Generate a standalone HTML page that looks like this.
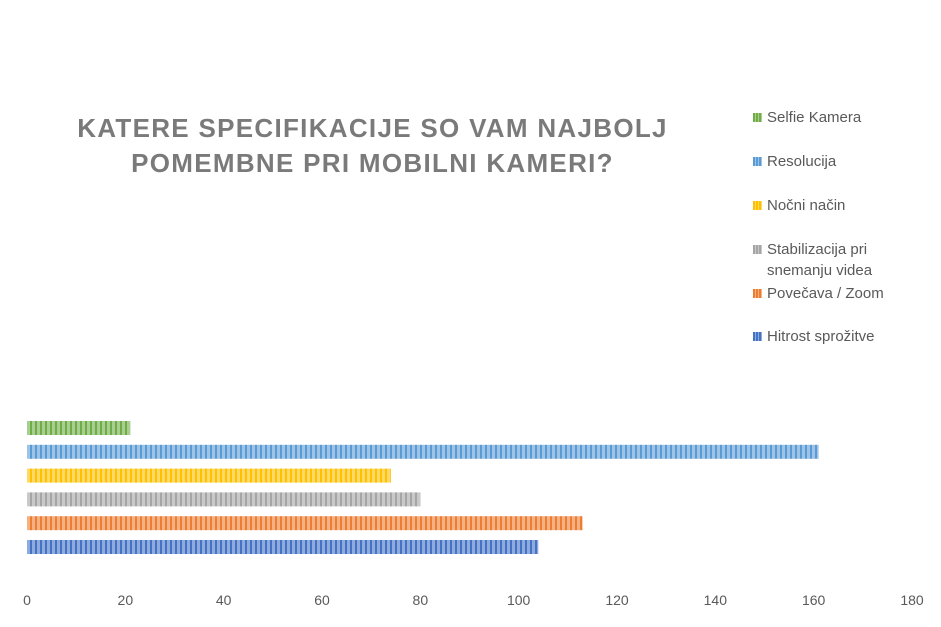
<!DOCTYPE html>
<html><head><meta charset="utf-8"><style>
body{margin:0;background:#fff;font-family:"Liberation Sans",sans-serif}
#c{position:relative;width:941px;height:627px;overflow:hidden}
.t{position:absolute;left:40px;width:665px;text-align:center;top:111px;font-size:26px;font-weight:bold;color:#7a7a7a;letter-spacing:1.3px;line-height:35px}
.lg{position:absolute;left:753px;font-size:15px;color:#595959;line-height:21px}
.lg i{position:absolute;left:0;top:6px;width:9px;height:9px}
.lg span{position:absolute;left:14px;white-space:nowrap}
</style></head><body>
<div id="c">
<div class="t">KATERE SPECIFIKACIJE SO VAM NAJBOLJ POMEMBNE PRI MOBILNI KAMERI?</div>
<div id="legend"></div>
<svg id="s" width="941" height="627" style="position:absolute;left:0;top:0">
<defs id="d"></defs>
</svg>
</div>
<script>
const categories=["Selfie Kamera","Resolucija","Nočni način","Stabilizacija pri snemanju videa","Povečava / Zoom","Hitrost sprožitve"];
const values=[21,161,74,80,113,104];
const colors=["#70ad47","#5b9bd5","#ffc000","#a5a5a5","#ed7d31","#4472c4"];
const ticks=[0,20,40,60,80,100,120,140,160,180];
const x0=27,x1=912,xmax=180;
const xs=v=>x0+(v/xmax)*(x1-x0);
const ys=i=>421+i*23.8;
const NS="http://www.w3.org/2000/svg";
const svg=document.getElementById('s'),defs=document.getElementById('d');
colors.forEach((c,i)=>{
  const p=document.createElementNS(NS,'pattern');
  p.setAttribute('id','p'+i);p.setAttribute('width','5');p.setAttribute('height','10');p.setAttribute('patternUnits','userSpaceOnUse');
  p.innerHTML=`<rect width="5" height="10" fill="${c}" opacity="0.6"/><rect x="0" width="2" height="10" fill="${c}"/>`;
  defs.appendChild(p);
});
values.forEach((v,i)=>{
  const r=document.createElementNS(NS,'rect');
  r.setAttribute('x',x0);r.setAttribute('y',ys(i));r.setAttribute('width',xs(v)-x0);r.setAttribute('height',14);
  r.setAttribute('fill','url(#p'+i+')');
  
  
  svg.appendChild(r);
});
ticks.forEach(t=>{
  const tx=document.createElementNS(NS,'text');
  tx.setAttribute('x',xs(t));tx.setAttribute('y',605);tx.setAttribute('text-anchor','middle');
  tx.setAttribute('font-size','14');tx.setAttribute('fill','#595959');tx.setAttribute('font-family','Liberation Sans, sans-serif');
  tx.textContent=t;
  
  
  svg.appendChild(tx);
});
const ly=[107,151,195,239,283,326],lg=document.getElementById('legend');
categories.forEach((c,i)=>{
  const d=document.createElement('div');d.className='lg';d.style.top=ly[i]+'px';
  
  
  const txt=c==="Stabilizacija pri snemanju videa"?"Stabilizacija pri<br>snemanju videa":c;
  d.innerHTML=`<i style="background:repeating-linear-gradient(90deg,${colors[i]} 0 2px,${colors[i]}99 2px 3px)"></i><span>${txt}</span>`;
  lg.appendChild(d);
});
</script>
</body></html>
